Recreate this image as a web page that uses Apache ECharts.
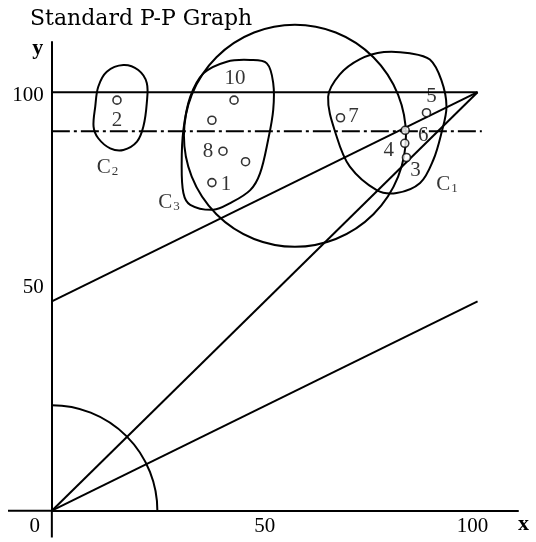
<!DOCTYPE html>
<html>
<head>
<meta charset="utf-8">
<script src="https://cdn.jsdelivr.net/npm/echarts@6/dist/echarts.min.js"></script>
<style>
  html, body { margin: 0; padding: 0; background: #fff; }
  #chart { width: 536px; height: 542px; }
</style>
</head>
<body>
<div id="chart"></div>
<script>
// Axis ticks (labels only at these values)
const tickStep = 50;
const xTickValues = [0, 50, 100];
const yTickValues = [50, 100];

// Axis lines continue a little past the origin
const axisStubs = [
  [[-10.3, 0], [0, 0]],
  [[0, 0], [0, -6.4]]
];

// Straight reference lines, as [x, y] end points
const diagonalLine = [[0, 0], [100, 100]];
const upperLine = [[0, 50], [100, 100]];
const lowerLine = [[0, 0], [100, 50]];
const topLine = [[0, 100], [100, 100]];
const thresholdLine = [[0, 90.7], [101, 90.7]];

// Plotted observations
const pointX = [15.3, 42.8, 37.6, 40.2, 45.5, 37.6, 67.8, 88.0, 83.0, 82.9, 83.3];
const pointY = [98.1, 98.1, 93.3, 85.9, 83.4, 78.4, 93.9, 95.1, 90.9, 87.8, 84.4];
const pointNames = ['2', '10', '', '8', '', '1', '7', '5', '6', '4', '3'];

// Circles: [centre x, centre y, radius] in axis units
const bigCircle = [57.1, 89.6, 26.3];
const quarterArc = [0, 0, 25];

// Cluster outlines C1, C2, C3 (closed curves through these points)
const clusterC1 = [[64.9, 98.9], [67.6, 104.2], [72.4, 107.9], [78.0, 109.6], [84.1, 109.3],
  [88.8, 107.8], [91.5, 102.9], [92.7, 96.6], [91.5, 90.2], [89.6, 83.8], [86.5, 78.3],
  [81.0, 75.9], [76.3, 76.6], [70.0, 82.2], [66.9, 89.4]];
const clusterC2 = [[16.8, 106.5], [20.3, 105.3], [22.3, 102.2], [22.3, 97.4], [21.5, 91.8],
  [20.0, 88.2], [16.8, 86.2], [13.7, 86.6], [10.9, 89.0], [9.8, 91.8], [10.2, 96.6],
  [10.9, 101.3], [12.9, 104.9]];
const clusterC3 = [[46.6, 107.7], [50.5, 106.9], [52.0, 102.2], [52.0, 95.8], [50.8, 88.6],
  [48.9, 80.6], [46.6, 76.6], [41.9, 73.5], [37.9, 71.9], [32.5, 73.1], [30.9, 75.9],
  [30.5, 83.0], [30.9, 91.0], [32.5, 98.9], [35.6, 104.5], [41.1, 107.3]];
const clusters = [clusterC1, clusterC2, clusterC3];
const clusterNames = ['1', '2', '3'];
const clusterLabelX = [92.8, 13.1, 27.5];
const clusterLabelY = [78.0, 82.1, 73.7];

// Label offsets (pixels) for the numbered points
const pointLabelOffsets = [[0, 20], [1, -22], [0, 0], [-15, 0], [0, 0], [14, 2],
  [13, -1], [5, -16], [18, 5], [-16, 7], [9, 13]];

const serif = "'Liberation Serif', 'Times New Roman', serif";
const ink = '#000';
const lw = 2;

function segment(data, dashed) {
  return {
    type: 'line', data: data, symbol: 'none', silent: true, animation: false, clip: false,
    lineStyle: { color: ink, width: lw, type: dashed ? [18, 4, 3, 4] : 'solid', cap: 'butt' },
    z: 2
  };
}

const chart = echarts.init(document.getElementById('chart'), null, { renderer: 'canvas' });

chart.setOption({
  animation: false,
  backgroundColor: '#fff',
  title: {
    text: 'Standard P-P Graph',
    left: 25, top: 3,
    textStyle: { fontFamily: "'DejaVu Serif', serif", fontSize: 22, fontWeight: 'normal', color: ink }
  },
  grid: { left: 51.85, right: 18, top: 42, bottom: 31.3, outerBoundsMode: 'none', containLabel: false },
  xAxis: {
    type: 'value', min: 0, max: 109.5, interval: tickStep,
    splitLine: { show: false },
    axisTick: { show: false },
    axisLine: { lineStyle: { color: ink, width: lw } },
    axisLabel: {
      showMaxLabel: false,
      margin: 5,
      color: ink, fontFamily: serif, fontSize: 21,
      formatter: function (v) {
        if (xTickValues.indexOf(v) < 0) return '';
        if (v === 0) return '{z|0}';
        if (v === 100) return '{h|100}';
        return '{n|' + v + '}';
      },
      rich: {
        z: { fontFamily: serif, fontSize: 21, color: ink, padding: [0, 34, 0, 0] },
        h: { fontFamily: serif, fontSize: 21, color: ink, padding: [0, 10, 0, 0] },
        n: { fontFamily: serif, fontSize: 21, color: ink }
      }
    },
    name: 'x', nameLocation: 'end', nameGap: 0, nameMoveOverlap: false,
    nameTextStyle: { fontFamily: serif, fontSize: 22, fontWeight: 'bold', color: ink, verticalAlign: 'top', padding: [3, 0, 0, 0] }
  },
  yAxis: {
    type: 'value', min: 0, max: 112, interval: tickStep,
    splitLine: { show: false },
    axisTick: { show: false },
    axisLine: { lineStyle: { color: ink, width: lw } },
    axisLabel: {
      showMinLabel: false, showMaxLabel: false,
      margin: 8,
      color: ink, fontFamily: serif, fontSize: 21,
      formatter: function (v) {
        if (yTickValues.indexOf(v) < 0) return '';
        return v === 100 ? '{t|100}' : '{f|' + v + '}';
      },
      rich: {
        t: { fontFamily: serif, fontSize: 21, color: ink, padding: [6, 0, 0, 0] },
        f: { fontFamily: serif, fontSize: 21, color: ink, padding: [0, 0, 27, 0] }
      }
    },
    name: 'y', nameLocation: 'end', nameGap: -17, nameMoveOverlap: false,
    nameTextStyle: { fontFamily: serif, fontSize: 22, fontWeight: 'bold', color: ink, padding: [0, 28, 0, 0] }
  },
  series: [
    {
      // axis lines past the origin
      type: 'custom', coordinateSystem: 'cartesian2d', silent: true, clip: false, z: 3,
      data: axisStubs.map(function (s, i) { return [s[0][0], s[0][1], i]; }),
      renderItem: function (params, api) {
        const pts = axisStubs[api.value(2)].map(function (p) { return api.coord(p); });
        return {
          type: 'polyline',
          shape: { points: pts },
          style: { fill: null, stroke: ink, lineWidth: lw }
        };
      }
    },
    segment(topLine, false),
    segment(thresholdLine, true),
    segment(upperLine, false),
    segment(diagonalLine, false),
    segment(lowerLine, false),
    {
      // big circle
      type: 'custom', coordinateSystem: 'cartesian2d', silent: true, clip: false, z: 2,
      data: [bigCircle],
      renderItem: function (params, api) {
        const c = api.coord([api.value(0), api.value(1)]);
        const s = api.size([api.value(2), api.value(2)]);
        return {
          type: 'circle',
          shape: { cx: c[0], cy: c[1], r: (s[0] + s[1]) / 2 },
          style: { fill: 'none', stroke: ink, lineWidth: lw }
        };
      }
    },
    {
      // quarter arc about the origin
      type: 'custom', coordinateSystem: 'cartesian2d', silent: true, clip: false, z: 2,
      data: [quarterArc],
      renderItem: function (params, api) {
        const c = api.coord([api.value(0), api.value(1)]);
        const s = api.size([api.value(2), api.value(2)]);
        return {
          type: 'arc',
          shape: { cx: c[0], cy: c[1], r: (s[0] + s[1]) / 2, startAngle: -Math.PI / 2, endAngle: 0, clockwise: true },
          style: { fill: null, stroke: ink, lineWidth: lw }
        };
      }
    },
    {
      // cluster outlines
      type: 'custom', coordinateSystem: 'cartesian2d', silent: true, clip: false, z: 2,
      data: clusters.map(function (pts, i) { return [pts[0][0], pts[0][1], i]; }),
      renderItem: function (params, api) {
        const pts = clusters[api.value(2)].map(function (p) { return api.coord(p); });
        return {
          type: 'polygon',
          shape: { points: pts, smooth: 0.35, smoothConstraint: false },
          style: { fill: 'none', stroke: ink, lineWidth: lw }
        };
      }
    },
    {
      // observations
      type: 'scatter', silent: true, z: 5,
      symbol: 'circle', symbolSize: 8,
      itemStyle: { color: '#fff', borderColor: ink, borderWidth: 1.6 },
      data: pointX.map(function (x, i) {
        return {
          value: [x, pointY[i]],
          name: pointNames[i],
          label: { offset: pointLabelOffsets[i] }
        };
      }),
      label: {
        show: true, position: 'inside',
        formatter: function (p) { return p.name; },
        fontFamily: serif, fontSize: 21, color: ink
      }
    },
    {
      // cluster names
      type: 'scatter', silent: true, z: 5,
      symbolSize: 0,
      data: clusterLabelX.map(function (x, i) {
        return { value: [x, clusterLabelY[i]], name: clusterNames[i] };
      }),
      label: {
        show: true, position: 'inside',
        formatter: function (p) { return '{c|C}{s|' + p.name + '}'; },
        rich: {
          c: { fontFamily: serif, fontSize: 21, color: ink },
          s: { fontFamily: serif, fontSize: 13, color: ink, padding: [9, 0, 0, 1] }
        }
      }
    }
  ]
});
</script>
</body>
</html>
